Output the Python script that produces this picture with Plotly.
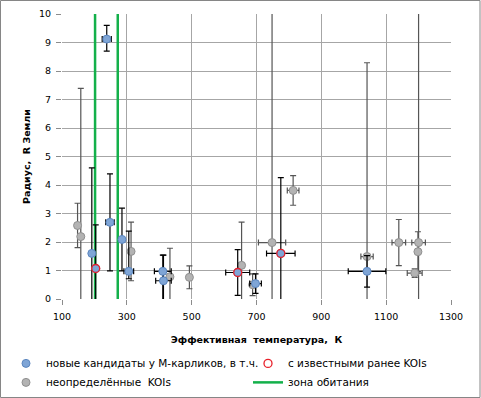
import plotly.graph_objects as go

# New candidates around M dwarfs
new_T = [238, 192, 204, 248, 285, 306, 411, 413, 642, 697, 775, 1041]
new_R = [9.12, 1.6, 1.07, 2.69, 2.09, 0.97, 0.97, 0.64, 0.93, 0.54, 1.6, 0.97]
new_ex = [14, 0, 0, 13, 0, 15, 26, 24, 37, 18, 44, 58]
new_ey_plus = [0.48, 3.0, 1.53, 1.7, 1.1, 1.41, 0.57, 0.9, 0.8, 0.34, 2.66, 0.55]
new_ey_minus = [0.42, 3.0, 1.53, 1.7, 1.1, 0.26, 1.0, 0.9, 0.8, 0.34, 2.66, 0.55]

# Of which, previously known KOIs
koi_T = [204, 642, 775]
koi_R = [1.07, 0.93, 1.6]

# Undetermined KOIs
und_T = [148, 158, 313, 433, 493, 654, 688, 748, 813, 1041, 1139, 1200, 1198, 1188]
und_R = [2.58, 2.19, 1.67, 0.78, 0.76, 1.18, 0.5, 1.98, 3.81, 1.49, 1.98, 1.98, 1.66, 0.91]
und_ex = [0, 0, 0, 0, 0, 0, 0, 42, 18, 19, 21, 21, 0, 23]
und_ey = [0.78, 5.2, 1.03, 1.0, 0.4, 1.52, 0.38, 10, 0.52, 6.8, 0.81, 10, 0.7, 0.15]

# Habitable zone boundaries
hz_T = [202, 272]

x_ticks = [100, 300, 500, 700, 900, 1100, 1300]
y_ticks = list(range(0, 11))

FONT = "DejaVu Sans"

fig = go.Figure()

fig.add_trace(go.Scatter(
    x=und_T, y=und_R, mode="markers",
    name="неопределённые\u00a0 KOIs", legend="legend", legendrank=2,
    marker=dict(size=8, color="#b3b3b3", line=dict(color="#909090", width=1)),
    error_x=dict(type="data", array=und_ex, color="#555555", thickness=1.2, width=3),
    error_y=dict(type="data", array=und_ey, color="#555555", thickness=1.2, width=3),
))

for i, t in enumerate(hz_T):
    fig.add_trace(go.Scatter(
        x=[t, t], y=[0, 10], mode="lines", legend="legend2", legendrank=2,
        name="зона обитания", showlegend=(i == 0),
        line=dict(color="#13b04a", width=2.5),
    ))

fig.add_trace(go.Scatter(
    x=new_T, y=new_R, mode="markers", legend="legend", legendrank=1,
    name="новые кандидаты у М-карликов, в т.ч.",
    marker=dict(size=8, color="#7fa5d6", line=dict(color="#5b86bf", width=1)),
    error_x=dict(type="data", array=new_ex, color="#000000", thickness=1.2, width=3),
    error_y=dict(type="data", array=new_ey_plus, arrayminus=new_ey_minus,
                 color="#000000", thickness=1.2, width=3),
))

fig.add_trace(go.Scatter(
    x=koi_T, y=koi_R, mode="markers", legend="legend2", legendrank=1,
    name="с известными ранее KOIs",
    marker=dict(size=8, color="rgba(0,0,0,0)", line=dict(color="#e8202a", width=1.3)),
))

leg_common = dict(
    orientation="v", yanchor="top", xanchor="left", y=-0.175,
    traceorder="normal", font=dict(family=FONT, size=10.5, color="#000000"),
    bgcolor="rgba(0,0,0,0)", tracegroupgap=0,
)

fig.update_layout(
    width=481, height=398,
    margin=dict(l=62, r=30, t=14, b=99, autoexpand=False),
    paper_bgcolor="white", plot_bgcolor="white",
    font=dict(family=FONT, size=9.5, color="#000000"),
    showlegend=True,
    legend=dict(x=(6 - 62) / 389, **leg_common),
    legend2=dict(x=(248 - 62) / 389, **leg_common),
    xaxis=dict(
        range=[100, 1300], tickvals=x_ticks, showgrid=True, gridcolor="#a6a6a6",
        gridwidth=1, zeroline=False, showline=False, ticks="outside", ticklen=5,
        tickcolor="#8c8c8c", tickfont=dict(family=FONT, size=9.5), ticklabelstandoff=4,
        title=dict(text="Эффективная\u00a0 температура,\u00a0 К",
                   font=dict(family=FONT, size=9.5, weight="bold"), standoff=14),
    ),
    yaxis=dict(
        range=[0, 10], tickvals=y_ticks, showgrid=True, gridcolor="#a6a6a6",
        gridwidth=1, zeroline=False, showline=False, ticks="outside", ticklen=5,
        tickcolor="#8c8c8c", tickfont=dict(family=FONT, size=9.5), ticklabelstandoff=3,
        title=dict(text="Радиус,\u00a0 R Земли",
                   font=dict(family=FONT, size=9.5, weight="bold"), standoff=6),
    ),
    shapes=[dict(type="rect", xref="paper", yref="paper",
                 x0=(0.5 - 62) / 389, x1=(480 - 62) / 389,
                 y0=(299 - 397.5) / 285, y1=(299 - 0.5) / 285,
                 line=dict(color="#868686", width=1), fillcolor="rgba(0,0,0,0)",
                 layer="below")],
)

fig.write_html("out.html", config={"displayModeBar": False},
               post_script="document.body.style.margin='0';")
